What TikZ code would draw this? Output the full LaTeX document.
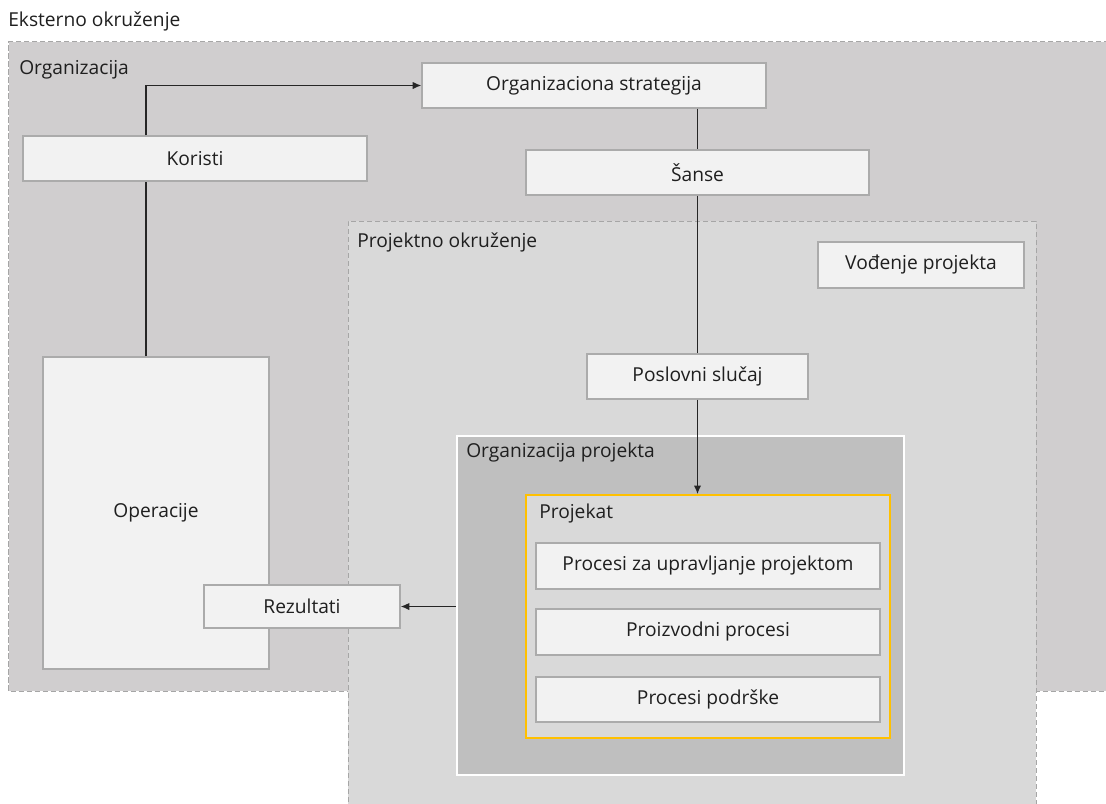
\documentclass[tikz,border=0pt]{standalone}
\usepackage{fontspec}
\setmainfont{Open Sans}
\usetikzlibrary{arrows.meta}
\definecolor{orgfill}{HTML}{D0CECF}
\definecolor{envfill}{HTML}{D9D9D9}
\definecolor{pofill}{HTML}{BFBFBF}
\definecolor{boxfill}{HTML}{F2F2F2}
\definecolor{boxline}{HTML}{ABABAB}
\definecolor{dashline}{HTML}{A6A6A6}
\definecolor{projline}{HTML}{FFC000}
\definecolor{arrowline}{HTML}{262626}
\begin{document}
\begin{tikzpicture}[x=0.75pt, y=-0.75pt,
    every node/.style={font=\fontsize{14.4}{17}\selectfont, text=black!88},
    area/.style={draw=dashline, dash pattern=on 4pt off 2pt, line width=0.75pt, inner sep=0pt},
    procbox/.style={draw=boxline, fill=boxfill, line width=0.9pt, inner sep=0pt},
    tag/.style={anchor=west, inner sep=0pt},
    link/.style={draw=arrowline, line width=1pt},
    >={Latex[length=6.5pt, width=5.5pt]}]
  \useasboundingbox (0,0) rectangle (1106,803);
  % okruzenja
  \node[fill=orgfill, inner sep=0pt, minimum width=1140*0.75pt, minimum height=649*0.75pt] (org) at (579,366.5) {};
  \draw[area] (org.north east) -- (org.north west) -- (org.south west) -- (org.south east);
  \node[area, fill=envfill, minimum width=688*0.75pt, minimum height=600*0.75pt] (env) at (692,521) {};
  \node[fill=pofill, draw=white, line width=2pt, minimum width=447*0.75pt, minimum height=339*0.75pt] (orgp) at (680.5,605.5) {};
  \node[fill=envfill, draw=projline, line width=1.2pt, minimum width=364*0.75pt, minimum height=243*0.75pt] (proj) at (708,616.5) {};
  % natpisi
  \node[tag] (ext) at (8,21) {Eksterno okruženje};
  \node[tag] (orglabel) at (19,70) {Organizacija};
  \node[tag] (envlabel) at (357,242) {Projektno okruženje};
  \node[tag] (orgplabel) at (466,453) {Organizacija projekta};
  \node[tag] (projlabel) at (539,514) {Projekat};
  % kutije
  \node[procbox, minimum width=344*0.75pt, minimum height=45*0.75pt] (strat) at (594,85.5) {Organizaciona strategija};
  \node[procbox, minimum width=344*0.75pt, minimum height=45*0.75pt] (ben) at (195,158.5) {Koristi};
  \node[procbox, minimum width=343*0.75pt, minimum height=45*0.75pt] (sanse) at (697.5,172.5) {Šanse};
  \node[procbox, minimum width=206*0.75pt, minimum height=46*0.75pt] (gov) at (921,265) {Vođenje projekta};
  \node[procbox, minimum width=221*0.75pt, minimum height=45*0.75pt] (case) at (697.5,376.5) {Poslovni slučaj};
  \node[procbox, minimum width=226*0.75pt, minimum height=312*0.75pt] (ops) at (156,513) {Operacije};
  \node[procbox, minimum width=196*0.75pt, minimum height=43*0.75pt] (res) at (302,606.5) {Rezultati};
  \node[procbox, minimum width=344*0.75pt, minimum height=46*0.75pt] (pm) at (708,566) {Procesi za upravljanje projektom};
  \node[procbox, minimum width=344*0.75pt, minimum height=46*0.75pt] (prod) at (708,632) {Proizvodni procesi};
  \node[procbox, minimum width=344*0.75pt, minimum height=45*0.75pt] (sup) at (708,699.5) {Procesi podrške};
  % veze
  \coordinate (bend) at (146,88);
  \draw[link] (ops.north -| bend) -- (ben.south -| bend);
  \draw[link, ->] (ben.north -| bend) |- (strat.west);
  \draw[link] (strat.south -| sanse.north) -- (sanse.north);
  \draw[link] (sanse.south) -- (case.north);
  \draw[link, ->] (case.south) -- (case.south |- proj.north);
  \draw[link, ->] (orgp.west |- res.east) -- (res.east);
\end{tikzpicture}
\end{document}
